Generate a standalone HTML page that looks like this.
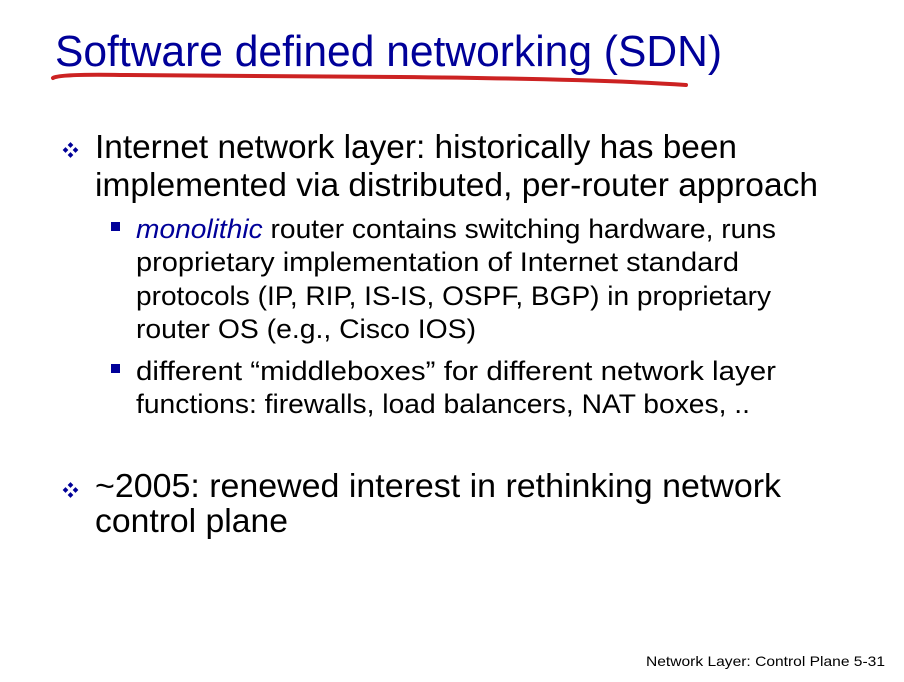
<!DOCTYPE html>
<html><head><style>
html,body{margin:0;padding:0;background:#fff;}
svg{display:block;}
text{font-family:"Liberation Sans",sans-serif;}
</style></head><body>
<svg width="904" height="682" viewBox="0 0 904 682" xmlns="http://www.w3.org/2000/svg">
<text x="55" y="66" font-size="44" fill="#000099" textLength="667" lengthAdjust="spacingAndGlyphs">Software defined networking (SDN)</text>
<path d="M53 78 Q60 74 120 75 L400 77 Q600 79 686 85" stroke="#cc2222" stroke-width="4" fill="none" stroke-linecap="round"/>
<g fill="#000099">
<g transform="translate(71,150)"><rect x="-2.5" y="-7" width="4" height="4" transform="rotate(45 -0.5 -5)"/><rect x="-2.5" y="3" width="4" height="4" transform="rotate(45 -0.5 5)"/><rect x="-7.5" y="-2" width="4" height="4" transform="rotate(45 -5.5 0)"/><rect x="2.5" y="-2" width="4" height="4" transform="rotate(45 4.5 0)"/></g>
<g transform="translate(71,490)"><rect x="-2.5" y="-7" width="4" height="4" transform="rotate(45 -0.5 -5)"/><rect x="-2.5" y="3" width="4" height="4" transform="rotate(45 -0.5 5)"/><rect x="-7.5" y="-2" width="4" height="4" transform="rotate(45 -5.5 0)"/><rect x="2.5" y="-2" width="4" height="4" transform="rotate(45 4.5 0)"/></g>
<rect x="111" y="222" width="9" height="9"/>
<rect x="111" y="364" width="9" height="9"/>
</g>
<g fill="#000">
<text x="95" y="158" font-size="33" textLength="642" lengthAdjust="spacingAndGlyphs">Internet network layer: historically has been</text>
<text x="95" y="196" font-size="33" textLength="723" lengthAdjust="spacingAndGlyphs">implemented via distributed, per-router approach</text>
<text x="136" y="238" font-size="27" textLength="640" lengthAdjust="spacingAndGlyphs"><tspan fill="#000099" font-style="italic">monolithic</tspan> router contains switching hardware, runs</text>
<text x="136" y="271" font-size="27" textLength="603" lengthAdjust="spacingAndGlyphs">proprietary implementation of Internet standard</text>
<text x="136" y="305" font-size="27" textLength="635" lengthAdjust="spacingAndGlyphs">protocols (IP, RIP, IS-IS, OSPF, BGP) in proprietary</text>
<text x="136" y="338" font-size="27" textLength="340" lengthAdjust="spacingAndGlyphs">router OS (e.g., Cisco IOS)</text>
<text x="136" y="380" font-size="27" textLength="640" lengthAdjust="spacingAndGlyphs">different “middleboxes” for different network layer</text>
<text x="136" y="413" font-size="27" textLength="614" lengthAdjust="spacingAndGlyphs">functions: firewalls, load balancers, NAT boxes, ..</text>
<text x="95" y="497" font-size="33" textLength="686" lengthAdjust="spacingAndGlyphs">~2005: renewed interest in rethinking network</text>
<text x="95" y="532" font-size="33" textLength="193" lengthAdjust="spacingAndGlyphs">control plane</text>
<text x="646" y="666" font-size="14" textLength="239" lengthAdjust="spacingAndGlyphs">Network Layer: Control Plane  5-31</text>
</g>
</svg>
</body></html>
